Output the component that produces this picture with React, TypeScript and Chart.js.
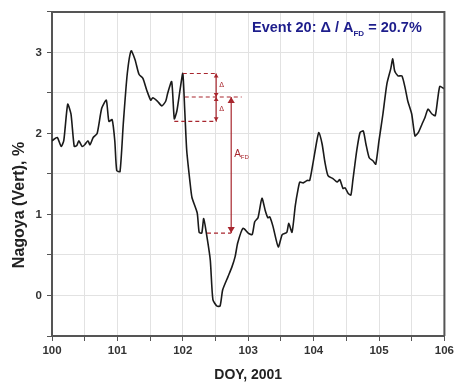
import React, { useEffect, useRef } from "react";
import { Chart, registerables } from "chart.js";

Chart.register(...registerables);

// ---- data ----
const doy: number[] = [
  100.0, 100.08, 100.14, 100.18, 100.24, 100.29, 100.34, 100.38, 100.41, 100.46,
  100.5, 100.55, 100.58, 100.63, 100.69, 100.76, 100.83, 100.87, 100.92, 100.96,
  100.99, 101.04, 101.09, 101.15, 101.21, 101.27, 101.33, 101.39, 101.45, 101.51,
  101.54, 101.61, 101.68, 101.74, 101.77, 101.83, 101.87, 101.91, 101.96, 102.0,
  102.03, 102.06, 102.11, 102.14, 102.22, 102.25, 102.29, 102.32, 102.37, 102.42,
  102.46, 102.52, 102.57, 102.61, 102.69, 102.75, 102.8, 102.84, 102.92, 103.0,
  103.06, 103.1, 103.15, 103.21, 103.26, 103.3, 103.33, 103.38, 103.46, 103.52,
  103.59, 103.62, 103.67, 103.72, 103.76, 103.79, 103.84, 103.9, 103.94, 103.99,
  104.05, 104.08, 104.13, 104.17, 104.22, 104.3, 104.36, 104.4, 104.45, 104.48,
  104.53, 104.57, 104.6, 104.66, 104.71, 104.76, 104.8, 104.85, 104.91, 104.95,
  105.0, 105.06, 105.12, 105.18, 105.21, 105.24, 105.29, 105.35, 105.4, 105.44,
  105.5, 105.55, 105.6, 105.66, 105.7, 105.75, 105.81, 105.86, 105.9, 105.93,
  105.98, 106.0,
];
const nagoya: number[] = [
  1.91, 1.95, 1.84, 1.91, 2.36, 2.24, 1.84, 1.85, 1.91, 1.84,
  1.86, 1.91, 1.86, 1.95, 2.0, 2.31, 2.41, 2.15, 2.17, 1.91,
  1.54, 1.53, 2.12, 2.73, 3.02, 2.91, 2.73, 2.68, 2.53, 2.41,
  2.44, 2.4, 2.34, 2.4, 2.5, 2.64, 2.18, 2.28, 2.55, 2.74,
  2.28, 1.79, 1.4, 1.21, 1.02, 0.78, 0.77, 0.95, 0.72, 0.44,
  -0.05, -0.13, -0.13, 0.07, 0.23, 0.35, 0.48, 0.65, 0.83, 0.77,
  0.75, 0.91, 0.96, 1.2, 1.05, 0.96, 0.97, 0.85, 0.6, 0.75,
  0.78, 0.89, 0.78, 1.11, 1.3, 1.4, 1.39, 1.42, 1.42, 1.63,
  1.91, 2.01, 1.87, 1.66, 1.48, 1.44, 1.4, 1.43, 1.32, 1.33,
  1.26, 1.24, 1.42, 1.79, 2.01, 2.03, 1.87, 1.7, 1.66, 1.62,
  1.91, 2.24, 2.61, 2.8, 2.92, 2.77, 2.71, 2.71, 2.56, 2.4,
  2.24, 1.97, 2.01, 2.12, 2.19, 2.3, 2.24, 2.22, 2.44, 2.58,
  2.56, 2.55,
];

// annotation levels (data units)
const levelTop = 2.74;
const levelMid = 2.45;
const levelLow = 2.15;
const levelBottom = 0.77;
const deltaArrowX = 102.51;
const afdArrowX = 102.74;
const afdLabelY = 1.74;

const titleMain = "Event 20: Δ / A";
const titleSub = "FD";
const titleTail = " = 20.7%";
const xTitle = "DOY, 2001";
const yTitle = "Nagoya (Vert), %";

const RED = "#a8262e";

const annotationPlugin = {
  id: "annot",
  afterDatasetsDraw(chart: any) {
    const { ctx, scales, chartArea } = chart;
    const xs = scales.x;
    const ys = scales.y;
    const px = (v: number) => xs.getPixelForValue(v);
    const py = (v: number) => ys.getPixelForValue(v);
    ctx.save();
    ctx.strokeStyle = RED;
    ctx.fillStyle = RED;
    ctx.lineWidth = 1.2;
    ctx.setLineDash([4, 3]);
    const dash = (x1: number, x2: number, y: number) => {
      ctx.beginPath();
      ctx.moveTo(px(x1), py(y));
      ctx.lineTo(px(x2), py(y));
      ctx.stroke();
    };
    dash(102.0, 102.52, levelTop);
    dash(102.03, 102.9, levelMid);
    dash(101.87, 102.52, levelLow);
    dash(102.37, 102.74, levelBottom);
    ctx.setLineDash([]);
    const arrow = (x: number, y1: number, y2: number, head: number) => {
      const X = px(x);
      const Y1 = py(y1);
      const Y2 = py(y2);
      ctx.beginPath();
      ctx.moveTo(X, Y1);
      ctx.lineTo(X, Y2);
      ctx.stroke();
      const tri = (y: number, dir: number) => {
        ctx.beginPath();
        ctx.moveTo(X, y);
        ctx.lineTo(X - head * 0.6, y + dir * head);
        ctx.lineTo(X + head * 0.6, y + dir * head);
        ctx.closePath();
        ctx.fill();
      };
      tri(Y1, 1);
      tri(Y2, -1);
    };
    arrow(deltaArrowX, levelTop, levelMid, 4);
    arrow(deltaArrowX, levelMid, levelLow, 4);
    arrow(afdArrowX, levelMid, levelBottom, 6);

    ctx.font = "7px 'DejaVu Sans', sans-serif";
    ctx.textAlign = "left";
    ctx.textBaseline = "middle";
    ctx.fillText("Δ", px(deltaArrowX) + 3, py((levelTop + levelMid) / 2));
    ctx.fillText("Δ", px(deltaArrowX) + 3, py((levelMid + levelLow) / 2));
    ctx.font = "10px Arial, 'Liberation Sans', sans-serif";
    const ax = px(afdArrowX) + 3;
    const ay = py(afdLabelY);
    ctx.fillText("A", ax, ay);
    const aw = ctx.measureText("A").width;
    ctx.font = "6px Arial, 'Liberation Sans', sans-serif";
    ctx.fillText("FD", ax + aw, ay + 3);

    // frame top & right
    ctx.strokeStyle = "#555";
    ctx.lineWidth = 2;
    ctx.beginPath();
    ctx.moveTo(chartArea.left, chartArea.top);
    ctx.lineTo(chartArea.right, chartArea.top);
    ctx.lineTo(chartArea.right, chartArea.bottom);
    ctx.stroke();

    // title inside plot
    ctx.fillStyle = "#1e1e8c";
    ctx.textBaseline = "alphabetic";
    ctx.font = "bold 14.5px Arial, 'Liberation Sans', sans-serif";
    let tx = 252;
    const ty = 32;
    ctx.fillText(titleMain, tx, ty);
    tx += ctx.measureText(titleMain).width;
    ctx.font = "bold 8px Arial, 'Liberation Sans', sans-serif";
    ctx.fillText(titleSub, tx, ty + 4);
    tx += ctx.measureText(titleSub).width;
    ctx.font = "bold 14.5px Arial, 'Liberation Sans', sans-serif";
    ctx.fillText(titleTail, tx, ty);

    // axis titles
    ctx.fillStyle = "#222";
    ctx.textAlign = "center";
    ctx.textBaseline = "middle";
    ctx.font = "bold 14px Arial, 'Liberation Sans', sans-serif";
    ctx.fillText(xTitle, (chartArea.left + chartArea.right) / 2, 375);
    ctx.save();
    ctx.translate(20, 205);
    ctx.rotate(-Math.PI / 2);
    ctx.font = "bold 16px Arial, 'Liberation Sans', sans-serif";
    ctx.fillText(yTitle, 0, 0);
    ctx.restore();
    ctx.restore();
  },
};

export default function App() {
  const ref = useRef<HTMLCanvasElement | null>(null);
  useEffect(() => {
    if (!ref.current) return;
    const points = doy.map((x, i) => ({ x, y: nagoya[i] }));
    const intLabel = (v: any) => (Math.abs(v - Math.round(v)) < 1e-6 ? String(Math.round(v)) : "");
    const chart = new Chart(ref.current, {
      type: "line",
      data: {
        datasets: [
          {
            data: points,
            borderColor: "#1a1a1a",
            borderWidth: 1.6,
            pointRadius: 0,
            tension: 0.2,
            fill: false,
          },
        ],
      },
      options: {
        responsive: false,
        animation: false,
        layout: { padding: { left: 0, right: 12, top: 10, bottom: 0 } },
        plugins: { legend: { display: false }, tooltip: { enabled: false } },
        scales: {
          x: {
            type: "linear",
            min: 100,
            max: 106,
            afterFit: (s: any) => {
              s.height = 54;
            },
            ticks: {
              stepSize: 0.5,
              callback: intLabel,
              color: "#333",
              font: { family: "Arial, 'Liberation Sans', sans-serif", size: 11.5, weight: "bold" },
              padding: 3,
              maxRotation: 0,
              autoSkip: false,
            },
            grid: { color: "#e2e2e2", tickColor: "#555", tickLength: 5, lineWidth: 1 },
            border: { color: "#555", width: 2 },
          },
          y: {
            min: -0.5,
            max: 3.5,
            afterFit: (s: any) => {
              s.width = 52;
            },
            ticks: {
              stepSize: 0.5,
              callback: intLabel,
              color: "#333",
              font: { family: "Arial, 'Liberation Sans', sans-serif", size: 11.5, weight: "bold" },
              padding: 5,
              autoSkip: false,
            },
            grid: { color: "#e2e2e2", tickColor: "#555", tickLength: 5, lineWidth: 1 },
            border: { color: "#555", width: 2 },
          },
        },
      },
      plugins: [annotationPlugin],
    });
    return () => chart.destroy();
  }, []);
  return (
    <div style={{ position: "absolute", left: 0, top: 0, width: 457, height: 390, background: "#fff" }}>
      <canvas ref={ref} width={457} height={390} style={{ display: "block" }} />
    </div>
  );
}
